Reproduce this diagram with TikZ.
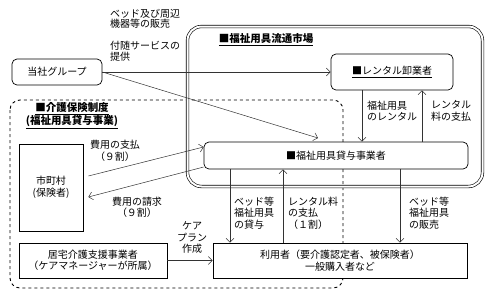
\documentclass[tikz,border=0pt]{standalone}
\usepackage{fontspec}
\setmainfont{Noto Sans CJK JP}
\usetikzlibrary{arrows.meta,positioning,calc}

\begin{document}
\begin{tikzpicture}[
  x=1pt, y=-1pt,
  font=\fontsize{10}{11.5}\selectfont,
  box/.style={rectangle,draw=black,fill=white,line width=0.7pt,
              align=center,inner sep=2pt},
  rbox/.style={box,rounded corners=5pt},
  lbl/.style={align=left,inner sep=0pt,anchor=west},
  clbl/.style={align=center,inner sep=0pt},
  ttl/.style={font=\fontsize{10.5}{13}\selectfont\bfseries,
              align=center,inner sep=0pt},
  arr/.style={-{Straight Barb[length=4pt,width=8pt]},
              draw=black!80,line width=0.5pt},
]
  \useasboundingbox (0,0) rectangle (491,298);

  % frames
  \draw[dashed,line width=0.9pt,rounded corners=10pt] (10,100) rectangle (343,288);
  \draw[double,double distance=2pt,line width=0.6pt,rounded corners=14pt]
    (187.5,26.5) rectangle (482.5,186.5);
  \node[ttl] (mkt) at (266,40) {\underline{■福祉用具流通市場}};
  \node[ttl] (ins) at (72,116) {\underline{■介護保険制度}\\\underline{(福祉用具貸与事業)}};

  % boxes
  \node[rbox,minimum width=90pt,minimum height=26pt] (grp) at (57,72) {当社グループ};
  \node[rbox,minimum width=122pt,minimum height=36pt] (rent) at (392,72)
    {\underline{■レンタル卸業者}};
  \node[rbox,minimum width=264pt,minimum height=27pt] (lend) at (336,155.5)
    {■福祉用具貸与事業者};
  \node[box,minimum width=64pt,minimum height=87pt] (city) at (51,187.5)
    {市町村\\(保険者)};
  \node[box,minimum width=148pt,minimum height=35pt] (care) at (93,260.5)
    {居宅介護支援事業者\\（ケアマネージャーが所属）};
  \node[box,minimum width=254pt,minimum height=35pt] (user) at (340,260.5)
    {利用者（要介護認定者、被保険者）\\一般購入者など};

  % flows
  \coordinate (tip) at (318,138);
  \draw[arr] (grp.east) -- (rent.west);
  \draw[arr] (grp.east) -- (tip);
  \draw[arr] ([xshift=-30pt]rent.south) -- ([xshift=-30pt]rent.south |- lend.north);
  \draw[arr] ([xshift=30pt]rent.south |- lend.north) -- ([xshift=30pt]rent.south);
  \draw[arr] ($(city.east)+(5,-11.5)$) -- ($(lend.west)+(0,-8.5)$);
  \draw[arr] ($(lend.west)+(0,11.5)$) -- ($(city.east)+(5,9.5)$);
  \draw[arr] ([xshift=-106pt]lend.south) -- ([xshift=-106pt]lend.south |- user.north);
  \draw[arr] ([xshift=-53pt]lend.south |- user.north) -- ([xshift=-53pt]lend.south);
  \draw[arr] ([xshift=64pt]lend.south) -- ([xshift=64pt]lend.south |- user.north);
  \draw[arr] (care.east) -- (user.west);

  % labels
  \node[lbl,font=\fontsize{10}{10.5}\selectfont] (sell) at (110,19)
    {ベッド及び周辺\\機器等の販売};
  \node[lbl,font=\fontsize{10}{10.5}\selectfont] (svc) at (110,51)
    {付随サービスの\\提供};
  \node[lbl] (rentl) at (367,111) {福祉用具\\のレンタル};
  \node[lbl] (rentp) at (431,111) {レンタル\\料の支払};
  \node[clbl] (pay) at (115,151) {費用の支払\\（９割）};
  \node[clbl] (req) at (137,207.5) {費用の請求\\（９割）};
  \node[clbl] (plan) at (192,237.5) {ケア\\プラン\\作成};
  \node[lbl] (lendl) at (234,213) {ベッド等\\福祉用具\\の貸与};
  \node[lbl] (feel) at (288,213) {レンタル料\\の支払\\（１割）};
  \node[lbl] (salel) at (409,213) {ベッド等\\福祉用具\\の販売};
\end{tikzpicture}
\end{document}
